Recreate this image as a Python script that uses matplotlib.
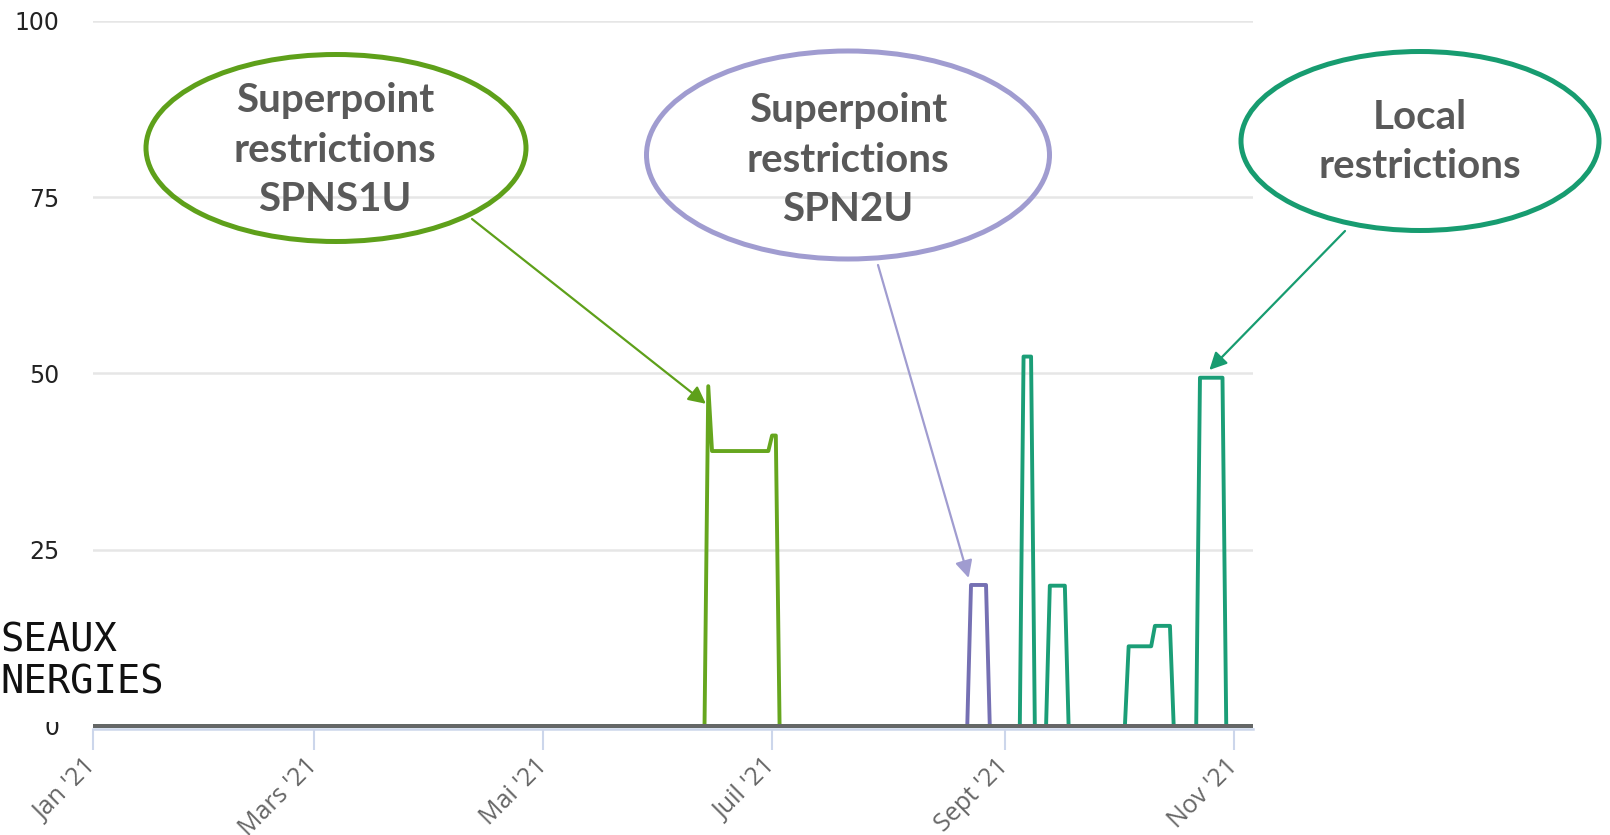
#!/usr/bin/env python3
"""Restriction levels 2021 with annotated callouts"""

import pandas as pd
import matplotlib
matplotlib.use("Agg")
from matplotlib import pyplot as plt
from matplotlib.patches import Ellipse, Rectangle
import matplotlib.dates as mdates

W, H = 1610, 835

# series breakpoints (date, value) -- zero outside
spns1u_dates = ["2021-01-01", "2021-06-13", "2021-06-14", "2021-06-15", "2021-06-30",
                "2021-07-01", "2021-07-02", "2021-07-03", "2021-11-06"]
spns1u_vals = [0, 0, 48.2, 39.0, 39.0, 41.2, 41.2, 0, 0]

spn2u_dates = ["2021-01-01", "2021-08-22", "2021-08-23", "2021-08-27", "2021-08-28", "2021-11-06"]
spn2u_vals = [0, 0, 20.0, 20.0, 0, 0]

local_dates = ["2021-01-01",
               "2021-09-05", "2021-09-06", "2021-09-08", "2021-09-09",
               "2021-09-12", "2021-09-13", "2021-09-17", "2021-09-18",
               "2021-10-03", "2021-10-04", "2021-10-10", "2021-10-11", "2021-10-15", "2021-10-16",
               "2021-10-22", "2021-10-23", "2021-10-29", "2021-10-30",
               "2021-11-06"]
local_vals = [0,
              0, 52.4, 52.4, 0,
              0, 19.9, 19.9, 0,
              0, 11.3, 11.3, 14.2, 14.2, 0,
              0, 49.4, 49.4, 0,
              0]

base_dates = ["2021-01-01 00:00", "2021-11-06 05:00"]
base_vals = [0, 0]

tick_dates = ["2021-01-01", "2021-03-01", "2021-05-01", "2021-07-01", "2021-09-01", "2021-11-01"]
tick_labels = ["Jan '21", "Mars '21", "Mai '21", "Juil '21", "Sept '21", "Nov '21"]
y_ticks = [0, 25, 50, 75, 100]

callouts = [
    # text, text center (px), ellipse center/size (px), colour, arrow tail (px), arrow tip (date, value)
    ("Superpoint\nrestrictions\nSPNS1U", (335, 150), (336, 148), (380, 187), "#5ea01a",
     (472, 219), ("2021-06-13 09:00", 45.7)),
    ("Superpoint\nrestrictions\nSPN2U", (848, 160), (848, 155), (403, 208), "#a09cd0",
     (878, 265), ("2021-08-22 09:00", 21.0)),
    ("Local\nrestrictions", (1420, 142), (1420, 141), (358, 179), "#179c70",
     (1345, 231), ("2021-10-25 12:00", 50.5)),
]


def px(x, y):
    return x / W, 1 - y / H


def main():
    fig = plt.figure(figsize=(W / 100, H / 100), dpi=100)
    ax = fig.add_axes([92.7 / W, 1 - 729 / H, (1253.3 - 92.7) / W, (729 - 21) / H])

    ax.plot(pd.to_datetime(spns1u_dates), spns1u_vals, color="#66a61e", lw=2.8, zorder=3)
    ax.plot(pd.to_datetime(spn2u_dates), spn2u_vals, color="#7570b3", lw=2.8, zorder=3)
    ax.plot(pd.to_datetime(local_dates), local_vals, color="#1b9e77", lw=2.8, zorder=3)
    ax.plot(pd.to_datetime(base_dates), base_vals, color="#666666", lw=2.8, zorder=4,
            solid_capstyle="butt")

    ax.set_xlim(pd.Timestamp("2021-01-01"), pd.Timestamp("2021-11-06 05:00"))
    ax.set_ylim(-0.43, 100)

    ax.set_xticks(pd.to_datetime(tick_dates))
    ax.set_xticklabels(tick_labels, rotation=45, ha="right", va="center",
                       rotation_mode="anchor", fontsize=18, color="#666666",
                       family="Open Sans")
    ax.tick_params(axis="x", length=15, width=1.5, color="#ccd6eb", pad=9)

    ax.set_yticks(y_ticks)
    ax.set_yticklabels([str(v) for v in y_ticks], fontsize=17, color="#222222")
    ax.tick_params(axis="y", length=0, pad=24)
    ax.yaxis.grid(True, color="#e6e6e6", lw=1.8)
    ax.set_axisbelow(True)

    for s in ["top", "right", "left"]:
        ax.spines[s].set_visible(False)
    ax.spines["bottom"].set_color("#ccd6eb")
    ax.spines["bottom"].set_linewidth(1.8)

    # logo remnant on the left (its white background hides the top of the 0 label)
    fig.add_artist(Rectangle(px(0, 722), 88 / W, 122 / H, transform=fig.transFigure,
                             facecolor="white", edgecolor="none", zorder=2))
    fig.text(0, 1 - 641 / H, "SEAUX", fontsize=28, family="DejaVu Sans Mono",
             color="#111111", ha="left", va="center", zorder=3)
    fig.text(0, 1 - 682 / H, "NERGIES", fontsize=28, family="DejaVu Sans Mono",
             color="#111111", ha="left", va="center", zorder=3)

    for text, (tx, ty), (cx, cy), (ew, eh), col, tail, (tdate, tval) in callouts:
        e = Ellipse(px(cx, cy), ew / W, eh / H, transform=fig.transFigure,
                    fill=False, edgecolor=col, lw=3.6, clip_on=False, zorder=5)
        fig.add_artist(e)
        fig.text(*px(tx, ty), text, ha="center", va="center", fontsize=29,
                 fontweight="bold", family="Lato", color="#595959", linespacing=1.42,
                 zorder=6)
        ax.annotate("", xy=(mdates.date2num(pd.Timestamp(tdate)), tval),
                    xytext=px(*tail), textcoords="figure fraction",
                    arrowprops=dict(arrowstyle="-|>", color=col, lw=1.6,
                                    mutation_scale=26, shrinkA=0, shrinkB=0),
                    annotation_clip=False, zorder=6)

    fig.savefig("out.png", dpi=100)


if __name__ == "__main__":
    main()
